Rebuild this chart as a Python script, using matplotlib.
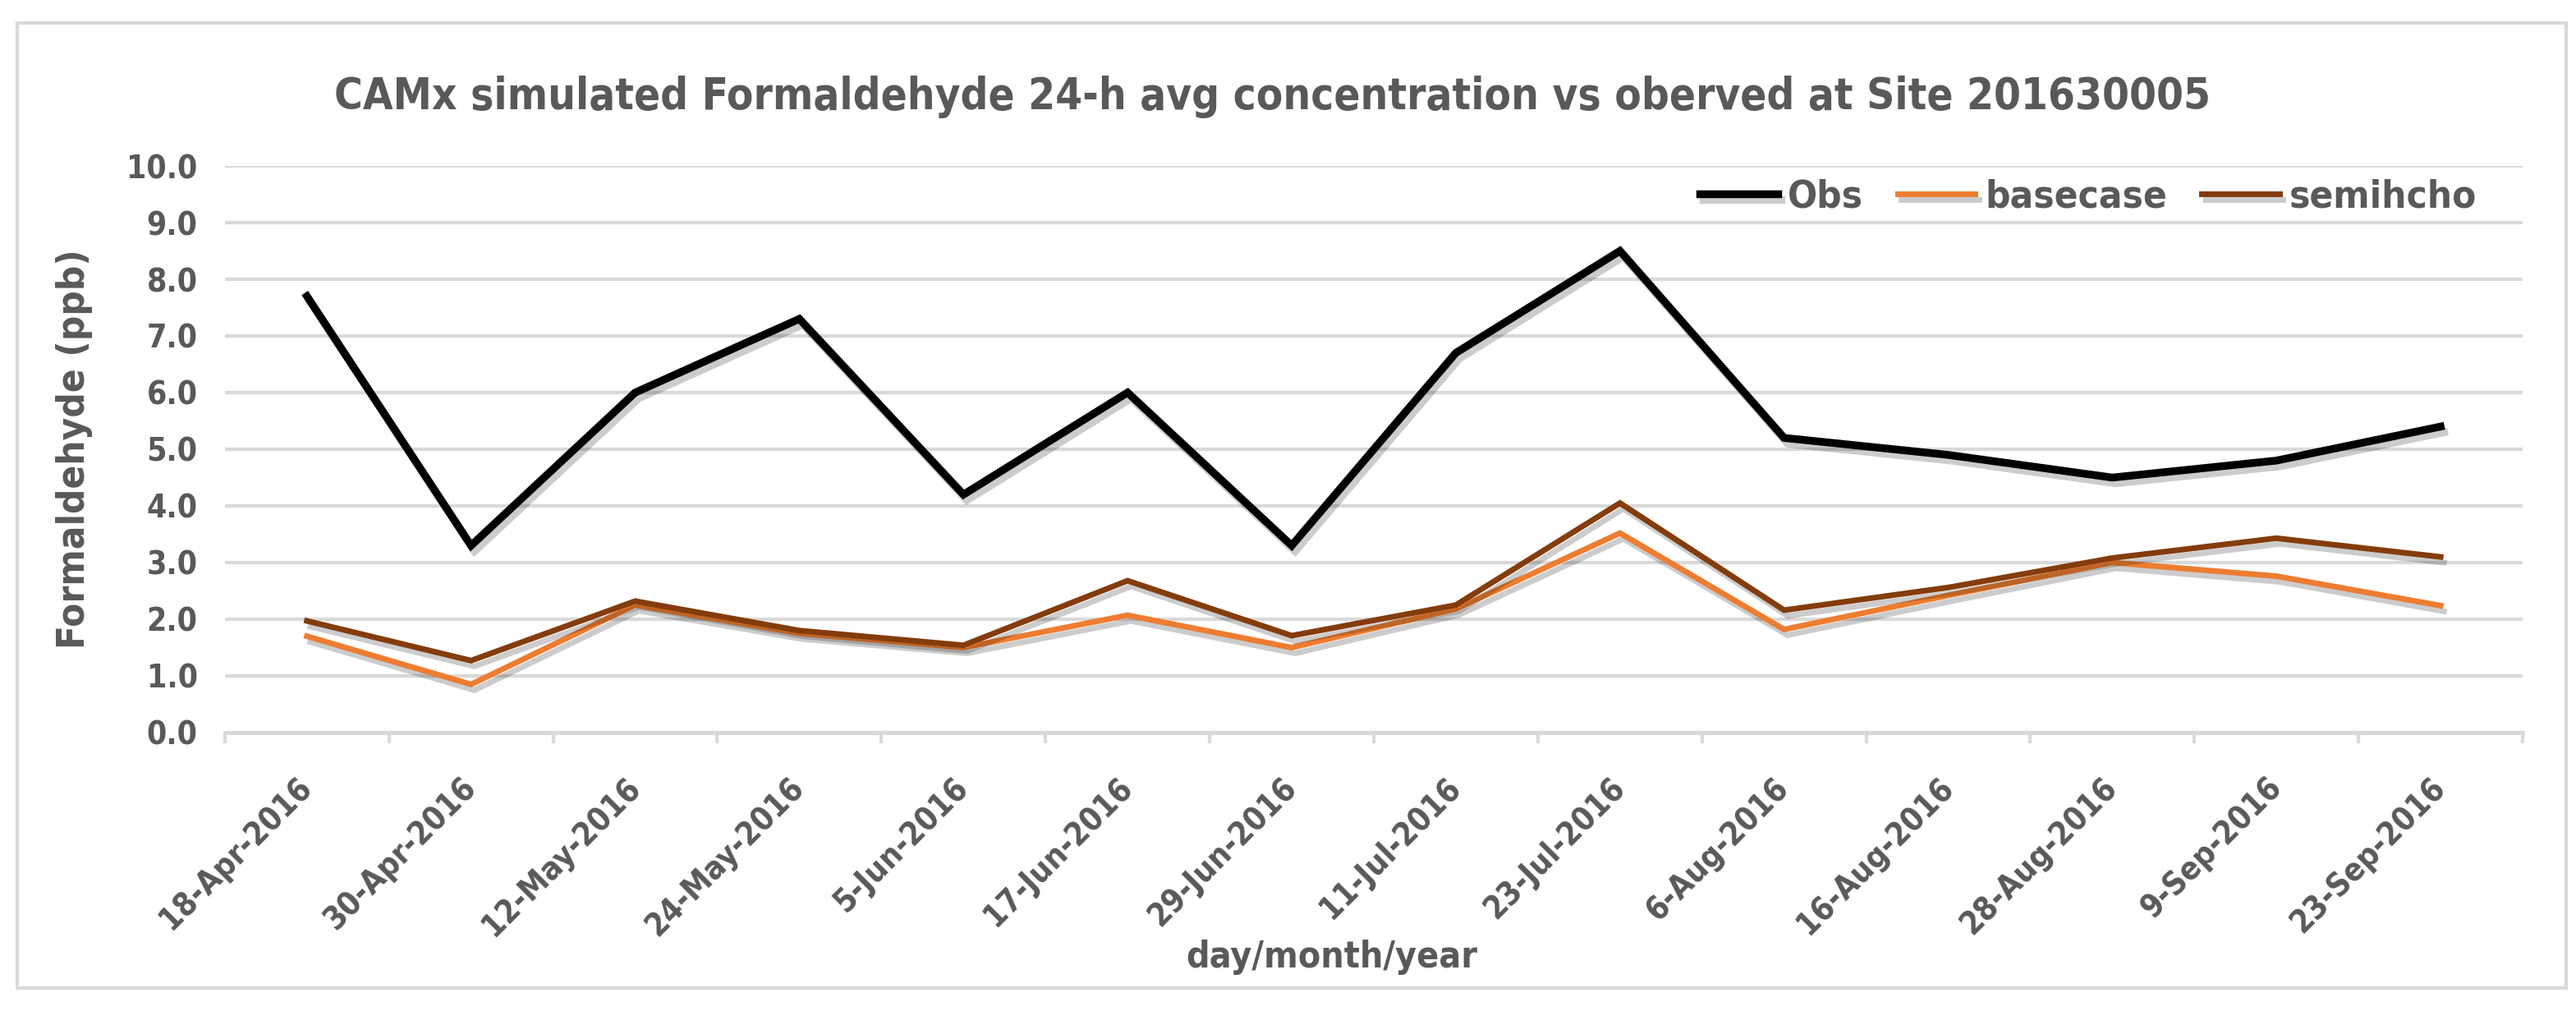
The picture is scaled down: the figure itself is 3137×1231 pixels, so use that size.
import matplotlib
matplotlib.use("Agg")
import matplotlib.pyplot as plt
import matplotlib.patheffects as pe
from matplotlib.patches import Rectangle

dates = ['18-Apr-2016', '30-Apr-2016', '12-May-2016', '24-May-2016', '5-Jun-2016',
         '17-Jun-2016', '29-Jun-2016', '11-Jul-2016', '23-Jul-2016', '6-Aug-2016',
         '16-Aug-2016', '28-Aug-2016', '9-Sep-2016', '23-Sep-2016']
obs = [7.7, 3.3, 6.0, 7.3, 4.2, 6.0, 3.3, 6.7, 8.5, 5.2, 4.9, 4.5, 4.8, 5.4]
basecase = [1.7, 0.85, 2.25, 1.75, 1.5, 2.07, 1.5, 2.18, 3.52, 1.82, 2.42, 3.0, 2.76, 2.24]
semihcho = [1.97, 1.27, 2.32, 1.8, 1.54, 2.68, 1.71, 2.25, 4.05, 2.16, 2.56, 3.08, 3.43, 3.1]

plt.rcParams['font.family'] = ['DejaVu Sans']
plt.rcParams['font.stretch'] = 'condensed'
txt = '#595959'
grid = '#D9D9D9'

fig = plt.figure(figsize=(15.685, 6.155), dpi=200)
ax = fig.add_axes([0.0873, 0.2754, 0.9793 - 0.0873, 0.8359 - 0.2754])

x = range(len(dates))
shadow = [pe.SimpleLineShadow(offset=(1.5, -2.5), shadow_color='black', alpha=0.2), pe.Normal()]
ax.plot(x, obs, color='black', lw=3.4, label='Obs', solid_joinstyle='miter', path_effects=shadow, zorder=3)
ax.plot(x, basecase, color='#ED7D31', lw=2.5, label='basecase', solid_joinstyle='miter', path_effects=shadow, zorder=3)
ax.plot(x, semihcho, color='#843C0C', lw=2.5, label='semihcho', solid_joinstyle='miter', path_effects=shadow, zorder=3)

ax.set_xlim(-0.5, len(dates) - 0.5)
ax.set_ylim(0, 10)
ax.set_yticks([i for i in range(11)])
ax.set_yticklabels([f'{i:.1f}' for i in range(11)])
ax.yaxis.grid(True, color=grid, lw=1.5)
ax.set_axisbelow(True)
ax.tick_params(axis='y', length=0, labelsize=14, labelcolor=txt, pad=12)
for lab in ax.get_yticklabels():
    lab.set_fontweight('bold')

ax.set_xticks(list(x))
ax.set_xticklabels(dates, rotation=45, ha='right', va='center', rotation_mode='anchor',
                   fontsize=14, fontweight='bold', color=txt)
ax.set_xticks([i - 0.5 for i in range(len(dates) + 1)], minor=True)
ax.tick_params(axis='x', which='major', length=0, pad=22)
ax.tick_params(axis='x', which='minor', length=4.5, width=1.5, color=grid)

for s in ['top', 'right', 'left']:
    ax.spines[s].set_visible(False)
ax.spines['bottom'].set_color(grid)
ax.spines['bottom'].set_linewidth(1.8)

fig.text(0.494, 0.904, 'CAMx simulated Formaldehyde 24-h avg concentration vs oberved at Site 201630005',
         ha='center', va='center', fontsize=19, fontweight='bold', color=txt)
fig.text(0.029, 0.556, 'Formaldehyde (ppb)', rotation=90, ha='center', va='center',
         fontsize=17, fontweight='bold', color=txt)
fig.text(0.517, 0.053, 'day/month/year', ha='center', va='center',
         fontsize=16, fontweight='bold', color=txt)

ax.legend(loc='center right', bbox_to_anchor=(0.975, 0.805), bbox_transform=fig.transFigure,
          ncol=3, frameon=False, handlelength=2.0, handletextpad=0.25, columnspacing=0.9,
          prop={'size': 17, 'weight': 'bold'}, labelcolor=txt)

fig.patches.append(Rectangle((21 / 3137, 1 - 1203 / 1231), (3125 - 21) / 3137, (1203 - 28) / 1231,
                             transform=fig.transFigure, fill=False, edgecolor=grid, lw=1.5))

fig.savefig('out.png', dpi=200, facecolor='white')
